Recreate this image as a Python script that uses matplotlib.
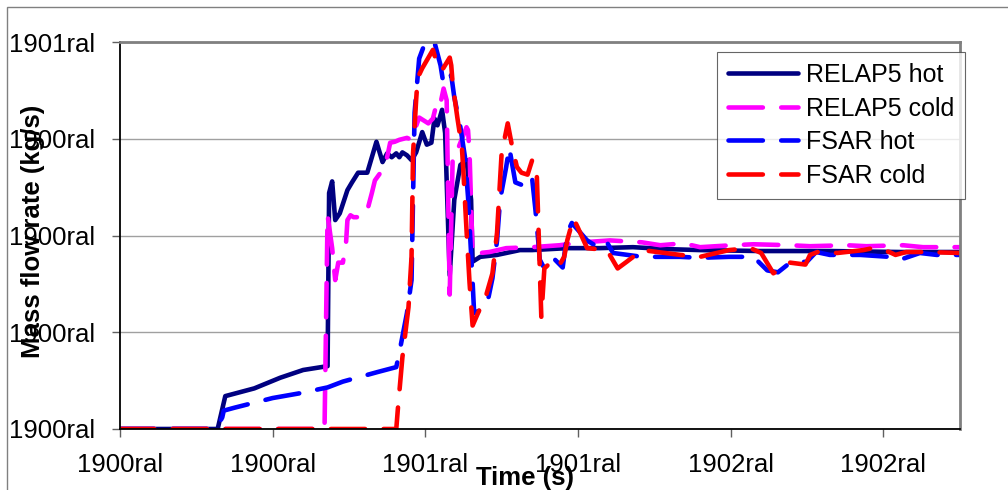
import matplotlib
matplotlib.use("Agg")
import matplotlib.pyplot as plt
from matplotlib.patches import Rectangle

plt.rcParams['font.family'] = ['Liberation Sans', 'DejaVu Sans']

# tick texts as they appear on the chart
x_tick_vals = [0, 100, 200, 300, 400, 500]
x_tick_labels = ["1900ral", "1900ral", "1901ral", "1901ral", "1902ral", "1902ral"]
y_tick_vals = [0, 1, 2, 3, 4]
y_tick_labels = ["1900ral", "1900ral", "1900ral", "1900ral", "1901ral"]

# RELAP5 hot
relap_hot_t = [0, 64, 69, 88, 105, 120, 136, 137, 139, 141, 144, 149, 152, 156, 162, 165,
               168, 172, 175, 178, 181, 183, 185, 188, 191, 194, 198, 201, 204, 206, 208,
               211, 213, 216, 219, 223, 227, 230, 231, 236, 247, 262, 270, 293, 314, 336,
               358, 380, 419, 465, 511, 550]
relap_hot_m = [0, 0, 0.34, 0.42, 0.53, 0.61, 0.65, 2.44, 2.56, 2.16, 2.23, 2.47, 2.55, 2.65,
               2.65, 2.81, 2.97, 2.76, 2.85, 2.81, 2.85, 2.81, 2.86, 2.83, 2.78, 2.86, 3.07,
               2.94, 2.96, 3.21, 3.14, 3.30, 3.06, 1.59, 2.37, 2.73, 2.78, 2.37, 1.73, 1.78,
               1.80, 1.85, 1.85, 1.87, 1.87, 1.88, 1.86, 1.85, 1.84, 1.84, 1.83, 1.83]

# RELAP5 cold
relap_cold_t = [0, 134, 136, 139, 141, 143, 146, 148, 149, 151, 153, 159, 162, 165, 167, 172,
                175, 177, 180, 183, 188, 191, 193, 196, 202, 205, 208, 210, 212, 214, 216,
                218, 221, 227, 228, 229, 231, 236, 242, 253, 270, 288, 303, 321, 342, 354,
                369, 380, 401, 415, 439, 452, 476, 489, 513, 526, 550]
relap_cold_m = [0, 0, 2.21, 1.87, 1.54, 1.72, 1.72, 1.90, 2.16, 2.21, 2.19, 2.19, 2.26, 2.44,
                2.57, 2.68, 2.81, 2.96, 2.97, 2.99, 3.01, 2.99, 3.09, 3.22, 3.16, 3.21, 3.40,
                3.37, 3.52, 3.40, 1.39, 2.85, 2.88, 3.12, 3.09, 2.85, 1.80, 1.82, 1.83, 1.87,
                1.88, 1.90, 1.93, 1.95, 1.93, 1.90, 1.92, 1.88, 1.90, 1.91, 1.90, 1.89, 1.90,
                1.89, 1.90, 1.88, 1.88]

# FSAR hot
fsar_hot_t = [0, 61, 65, 67, 68, 75, 100, 118, 136, 146, 169, 181, 183, 188, 191, 193, 196,
              200, 206, 210, 212, 217, 219, 223, 226, 228, 231, 232, 239, 241, 244, 247, 249,
              253, 255, 259, 267, 270, 272, 273, 275, 278, 282, 285, 290, 293, 296, 306, 314,
              319, 323, 342, 367, 380, 399, 415, 424, 431, 439, 450, 456, 465, 485, 504, 511,
              524, 535, 550]
fsar_hot_m = [0, 0, 0.06, 0.12, 0.19, 0.22, 0.32, 0.37, 0.43, 0.49, 0.59, 0.64, 0.79, 1.20,
              1.54, 3.27, 3.83, 4.0, 4.0, 3.76, 3.56, 3.66, 3.43, 3.12, 2.81, 2.40, 1.52, 1.20,
              1.25, 1.33, 1.56, 1.95, 2.37, 2.71, 2.91, 2.55, 2.50, 2.59, 2.29, 2.13, 1.75,
              1.66, 1.75, 1.75, 1.67, 2.03, 2.13, 1.95, 1.87, 1.93, 1.82, 1.78, 1.78, 1.77,
              1.78, 1.78, 1.64, 1.62, 1.72, 1.73, 1.83, 1.80, 1.80, 1.78, 1.75, 1.82, 1.80,
              1.80]

# FSAR cold
fsar_cold_t = [0, 181, 182, 185, 189, 191, 192, 194, 195, 198, 205, 208, 211, 216, 217, 218,
               221, 224, 225, 227, 229, 231, 234, 240, 244, 247, 250, 254, 257, 260, 263, 267,
               270, 273, 276, 278, 284, 288, 291, 293, 297, 300, 306, 319, 326, 332, 342, 367,
               380, 399, 413, 420, 428, 439, 449, 452, 457, 470, 487, 493, 504, 508, 515, 528,
               550]
fsar_cold_m = [0, 0, 0.20, 0.74, 1.26, 1.78, 2.85, 3.40, 3.63, 3.73, 3.92, 3.76, 3.71, 3.84,
               3.76, 3.56, 3.22, 2.91, 2.65, 2.06, 1.51, 1.07, 1.18, 1.39, 1.61, 2.03, 2.85,
               3.16, 2.91, 2.71, 2.65, 2.63, 2.78, 2.65, 1.16, 1.66, 1.75, 1.70, 1.78, 1.95,
               2.18, 2.08, 1.87, 1.85, 1.66, 1.73, 1.85, 1.80, 1.78, 1.85, 1.87, 1.82, 1.61,
               1.72, 1.70, 1.80, 1.83, 1.82, 1.85, 1.87, 1.83, 1.80, 1.83, 1.83, 1.82]

fig = plt.figure(figsize=(10.08, 4.9), dpi=100)
# outer chart border (Excel chart area)
fig.patches.append(Rectangle((7 / 1008, -0.1), 1.2, 1.1 - 7 / 490, transform=fig.transFigure,
                             fill=False, edgecolor="#808080", lw=1.0))
ax = fig.add_axes([0.119, 0.1245, 0.833, 0.7895])

lw = 3.3
dash_kw = dict(dashes=(7.5, 4), dash_capstyle="round", dash_joinstyle="round")
ax.plot(relap_hot_t, relap_hot_m, color="#000080", lw=lw, label="RELAP5 hot",
        solid_joinstyle="round", solid_capstyle="round")
ax.plot(relap_cold_t, relap_cold_m, color="#FF00FF", lw=lw, label="RELAP5 cold", **dash_kw)
ax.plot(fsar_hot_t, fsar_hot_m, color="#0000FF", lw=lw, label="FSAR hot", **dash_kw)
ax.plot(fsar_cold_t, fsar_cold_m, color="#FF0000", lw=lw, label="FSAR cold", **dash_kw)

ax.set_xlim(0, 550)
ax.set_ylim(0, 4)
ax.set_xticks(x_tick_vals)
ax.set_xticklabels(x_tick_labels)
ax.set_yticks(y_tick_vals)
ax.set_yticklabels(y_tick_labels)
ax.tick_params(axis="both", labelsize=18.5, length=6, width=1, color="#606060", direction="out")
ax.tick_params(axis="y", pad=12)
ax.tick_params(axis="x", pad=11)

ax.grid(axis="y", color="#a0a0a0", lw=1)
ax.set_axisbelow(True)
ax.spines["left"].set_color("black")
ax.spines["bottom"].set_color("black")
ax.spines["left"].set_linewidth(1.3)
ax.spines["bottom"].set_linewidth(1.3)
ax.spines["top"].set_color("#808080")
ax.spines["right"].set_color("#808080")
ax.spines["top"].set_linewidth(2)
ax.spines["right"].set_linewidth(2)

ax.set_xlabel("Time (s)", fontsize=18.5, fontweight="bold")
ax.xaxis.set_label_coords(0.482, -0.095)
ax.set_ylabel("Mass flow rate (kg/s)", fontsize=18.5, fontweight="bold")
ax.yaxis.set_label_coords(-0.089, 0.51)

leg = ax.legend(loc="upper left", bbox_to_anchor=(717 / 1008, 1 - 52 / 490),
                bbox_transform=fig.transFigure, fontsize=18, frameon=True, fancybox=False,
                edgecolor="#404040", handlelength=2.8, handletextpad=0.3, labelspacing=0.38,
                borderpad=0.45, borderaxespad=0)
leg.get_frame().set_linewidth(0.8)

fig.savefig("out.png", dpi=100)
